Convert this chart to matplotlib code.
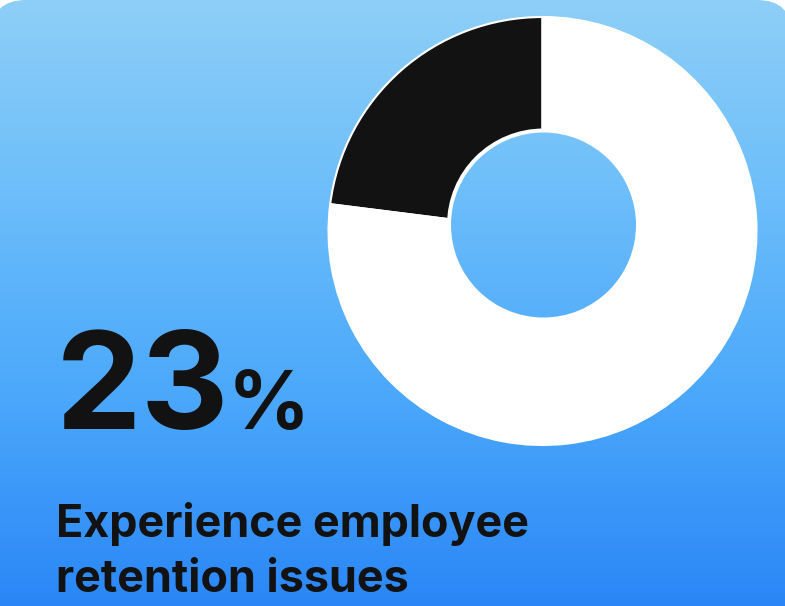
import numpy as np
import matplotlib
matplotlib.use("Agg")
import matplotlib.pyplot as plt
from matplotlib.patches import Circle, FancyBboxPatch
from matplotlib.colors import to_rgb

# share of respondents vs. the rest
shares = [23, 77]
share_colors = ["#121212", "#ffffff"]
headline = "23"
caption = ["Experience employee", "retention issues"]

# vertical background gradient stops (pixel row from top, colour)
grad_rows = [0, 200, 400, 606]
grad_colors = ["#8ecff7", "#6bbdfa", "#4aa7fb", "#2a86f6"]

W, H = 785, 606
plt.rcParams["font.family"] = ["Inter", "DejaVu Sans"]

fig = plt.figure(figsize=(W / 100, H / 100), dpi=100)
fig.patch.set_facecolor("white")
ax = fig.add_axes([0, 0, 1, 1])

# gradient image, one column stretched across
rows = np.arange(H)
rgb = np.array([to_rgb(c) for c in grad_colors])
grad = np.stack([np.interp(rows, grad_rows, rgb[:, k]) for k in range(3)], axis=-1)
grad = grad[:, None, :]

card = FancyBboxPatch((-9 + 35, 35 - 200), 792 + 9 - 70, H + 200 - 70,
                      boxstyle="round,pad=35", facecolor="none", edgecolor="none")
ax.add_patch(card)
bg = ax.imshow(grad, extent=(0, W, 0, H), origin="upper", aspect="auto", zorder=0)
bg.set_clip_path(card)

# donut: full pie, then the hole laid over it
cx, cy, r = 542.5, H - 231, 214
ax.pie(shares, colors=share_colors, startangle=90, counterclock=True,
       center=(cx, cy), radius=r,
       wedgeprops=dict(edgecolor="white", linewidth=1.5))

hx, hy, hr = 543.5, H - 225, 92.5
ax.add_patch(Circle((hx, hy), hr + 4, facecolor="white", edgecolor="none", zorder=2))
hole = Circle((hx, hy), hr, facecolor="none", edgecolor="none", zorder=3)
ax.add_patch(hole)
hole_img = ax.imshow(grad, extent=(0, W, 0, H), origin="upper", aspect="auto", zorder=3)
hole_img.set_clip_path(hole)

# big percentage
ax.text(56, H - 429, headline, fontsize=98, fontweight="bold", color="#121212",
        ha="left", va="baseline", zorder=4)
ax.text(228, H - 429, "%", fontsize=58, fontweight="bold", color="#121212",
        ha="left", va="baseline", zorder=4)

# caption
for i, line in enumerate(caption):
    ax.text(56, H - 537 - 55 * i, line, fontsize=32.3, fontweight="bold",
            color="#121212", ha="left", va="baseline", zorder=4)

ax.set_xlim(0, W)
ax.set_ylim(0, H)
ax.set_aspect("auto")
ax.axis("off")

fig.savefig("out.png", dpi=100, facecolor="white")
